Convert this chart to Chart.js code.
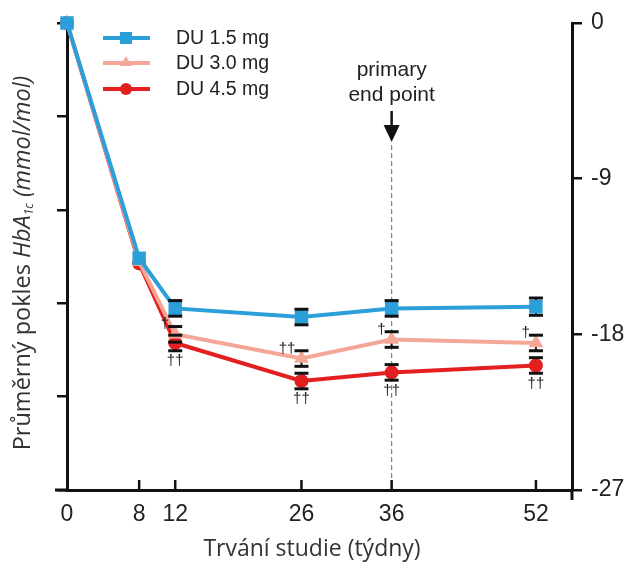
<!DOCTYPE html>
<html><head><meta charset="utf-8">
<script src="https://cdn.jsdelivr.net/npm/chart.js@4.4.0/dist/chart.umd.min.js"></script>
<style>html,body{margin:0;padding:0;background:#fff}#wrap{width:632px;height:565px;position:relative}</style>
</head><body><div id="wrap"><canvas id="c" width="632" height="565"></canvas></div>
<script>
// ---- data ----
const weeks = [0, 8, 12, 26, 36, 52];
const xTickValues = [0, 8, 12, 26, 36, 52];
const rightTickValues = [0, -9, -18, -27];
const seriesNames = ['DU 1.5 mg', 'DU 3.0 mg', 'DU 4.5 mg'];
const du15 = [0, -13.6, -16.5, -17.0, -16.5, -16.4];
const du30 = [0, -13.8, -18.0, -19.4, -18.3, -18.5];
const du45 = [0, -13.9, -18.5, -20.7, -20.2, -19.8];
const err15 = [0, 0, 0.45, 0.45, 0.45, 0.5];
const err30 = [0, 0, 0.45, 0.45, 0.45, 0.45];
const err45 = [0, 0, 0.45, 0.45, 0.45, 0.45];
const marks30 = ['', '', '†', '††', '†', '†'];
const marks45 = ['', '', '††', '††', '††', '††'];
const endPointWeek = 36;
const endPointText = ['primary', 'end point'];
const xTitle = 'Trvání studie (týdny)';

const colors = ['#2b9fd9', '#f4a797', '#e3201f'];
const styles = ['rect', 'triangle', 'circle'];
const radii = [9.5, 8.5, 7];
const errors = [err15, err30, err45];
const seriesData = [du15, du30, du45];
const SANS = '"Liberation Sans", Arial, sans-serif';

const datasets = seriesData.map((arr, i) => ({
  label: seriesNames[i],
  data: arr.map((v, j) => ({x: weeks[j], y: v})),
  borderColor: colors[i],
  backgroundColor: colors[i],
  borderWidth: 4,
  pointStyle: styles[i],
  pointRadius: radii[i],
  pointBorderWidth: 0,
  pointBackgroundColor: colors[i],
  tension: 0,
  clip: false,
  yAxisID: 'y'
}));

const deco = {
  id: 'deco',
  beforeDatasetsDraw(chart) {
    const ctx = chart.ctx, xs = chart.scales.x, ys = chart.scales.y, ca = chart.chartArea;
    ctx.save();
    const ex = xs.getPixelForValue(endPointWeek);
    ctx.strokeStyle = '#4a8fd9'; ctx.lineWidth = 1.2; ctx.setLineDash([5, 3]);
    ctx.beginPath(); ctx.moveTo(ex, 145); ctx.lineTo(ex, ca.bottom); ctx.stroke();
    ctx.setLineDash([]);
    ctx.strokeStyle = '#111'; ctx.lineWidth = 2;
    seriesData.forEach((arr, i) => {
      arr.forEach((v, j) => {
        const e = errors[i][j]; if (!e) return;
        const px = xs.getPixelForValue(weeks[j]);
        ctx.beginPath(); ctx.moveTo(px, ys.getPixelForValue(v + e)); ctx.lineTo(px, ys.getPixelForValue(v - e)); ctx.stroke();
      });
    });
    ctx.restore();
  },
  afterDatasetsDraw(chart) {
    const ctx = chart.ctx, xs = chart.scales.x, ys = chart.scales.y;
    ctx.save();
    ctx.strokeStyle = '#111'; ctx.lineWidth = 3;
    seriesData.forEach((arr, i) => {
      arr.forEach((v, j) => {
        const e = errors[i][j]; if (!e) return;
        const px = xs.getPixelForValue(weeks[j]);
        [v + e, v - e].forEach(val => {
          const py = ys.getPixelForValue(val);
          ctx.beginPath(); ctx.moveTo(px - 7, py); ctx.lineTo(px + 7, py); ctx.stroke();
        });
      });
    });
    ctx.fillStyle = '#222'; ctx.font = '15px ' + SANS;
    ctx.textBaseline = 'middle';
    du30.forEach((v, j) => {
      if (!marks30[j]) return;
      const px = xs.getPixelForValue(weeks[j]), py = ys.getPixelForValue(v);
      ctx.textAlign = 'right'; ctx.fillText(marks30[j], px - 6, py - 10);
    });
    du45.forEach((v, j) => {
      if (!marks45[j]) return;
      const px = xs.getPixelForValue(weeks[j]), py = ys.getPixelForValue(v);
      ctx.textAlign = 'center'; ctx.fillText(marks45[j], px, py + 18);
    });
    ctx.restore();
  },
  afterDraw(chart) {
    const ctx = chart.ctx, xs = chart.scales.x, ca = chart.chartArea;
    ctx.save();
    ctx.strokeStyle = '#111'; ctx.lineWidth = 3;
    ctx.beginPath(); ctx.moveTo(ca.left - 12, ca.bottom); ctx.lineTo(ca.left, ca.bottom); ctx.stroke();
    ctx.beginPath(); ctx.moveTo(ca.right, ca.bottom); ctx.lineTo(ca.right, ca.bottom + 10); ctx.stroke();
    ctx.lineWidth = 2.5;
    xTickValues.forEach(v => {
      if (v === 0) return;
      const px = xs.getPixelForValue(v);
      ctx.beginPath(); ctx.moveTo(px, ca.bottom); ctx.lineTo(px, ca.bottom - 10); ctx.stroke();
    });
    const ex = xs.getPixelForValue(endPointWeek);
    ctx.fillStyle = '#222'; ctx.font = '21px ' + SANS; ctx.textAlign = 'center'; ctx.textBaseline = 'middle';
    ctx.fillText(endPointText[0], ex, 70);
    ctx.fillText(endPointText[1], ex, 95);
    ctx.strokeStyle = '#111'; ctx.lineWidth = 2.5;
    ctx.beginPath(); ctx.moveTo(ex, 111); ctx.lineTo(ex, 128); ctx.stroke();
    ctx.fillStyle = '#111';
    ctx.beginPath(); ctx.moveTo(ex - 8, 125); ctx.lineTo(ex + 8, 125); ctx.lineTo(ex, 142); ctx.closePath(); ctx.fill();
    // legend
    const ly = [38, 63, 89];
    seriesNames.forEach((name, i) => {
      ctx.strokeStyle = colors[i]; ctx.lineWidth = 4;
      ctx.beginPath(); ctx.moveTo(103, ly[i]); ctx.lineTo(150, ly[i]); ctx.stroke();
      ctx.fillStyle = colors[i];
      const cx = 126, cy = ly[i];
      if (styles[i] === 'rect') { ctx.fillRect(cx - 6, cy - 6, 12, 12); }
      else if (styles[i] === 'triangle') { ctx.beginPath(); ctx.moveTo(cx, cy - 7); ctx.lineTo(cx + 6, cy + 3); ctx.lineTo(cx - 6, cy + 3); ctx.closePath(); ctx.fill(); }
      else { ctx.beginPath(); ctx.arc(cx, cy, 6, 0, Math.PI * 2); ctx.fill(); }
      ctx.fillStyle = '#222'; ctx.font = '19.5px ' + SANS; ctx.textAlign = 'left'; ctx.textBaseline = 'middle';
      ctx.fillText(name, 176, cy + 1);
    });
    // x title
    ctx.fillStyle = '#333'; ctx.font = '23px "Open Sans"'; ctx.textAlign = 'center'; ctx.textBaseline = 'middle';
    ctx.fillText(xTitle, 312, 549);
    // y title (rich text)
    const segs = [
      {t: 'Průměrný pokles ', f: '23.5px "Open Sans"', dy: 0},
      {t: 'HbA', f: 'italic 23.5px "Open Sans"', dy: 0},
      {t: '1c', f: 'italic 12px "Open Sans"', dy: 7},
      {t: ' (mmol/mol)', f: 'italic 23.5px "Open Sans"', dy: 0}
    ];
    let total = 0;
    segs.forEach(s => { ctx.font = s.f; s.w = ctx.measureText(s.t).width; total += s.w; });
    ctx.translate(23, 263); ctx.rotate(-Math.PI / 2);
    ctx.textAlign = 'left'; ctx.textBaseline = 'middle'; ctx.fillStyle = '#333';
    let xx = -total / 2;
    segs.forEach(s => { ctx.font = s.f; ctx.fillText(s.t, xx, s.dy); xx += s.w; });
    ctx.restore();
  }
};

new Chart(document.getElementById('c'), {
  type: 'line',
  data: {datasets},
  options: {
    responsive: false,
    animation: false,
    layout: {padding: {top: 23, left: 0, right: 0, bottom: 0}},
    plugins: {legend: {display: false}, tooltip: {enabled: false}},
    scales: {
      x: {
        type: 'linear', position: 'bottom', min: 0, max: 56,
        afterBuildTicks: s => { s.ticks = xTickValues.map(v => ({value: v})); },
        afterFit: s => { s.height = 75; },
        grid: {display: false},
        border: {display: true, width: 3, color: '#111'},
        ticks: {font: {family: SANS, size: 23}, color: '#222', padding: 3, maxRotation: 0, autoSkip: false}
      },
      yL: {
        type: 'linear', position: 'left', min: -2.5, max: 0,
        ticks: {display: false, stepSize: 0.5},
        afterFit: s => { s.width = 67; },
        grid: {drawOnChartArea: false, drawTicks: true, tickLength: 10, lineWidth: 2.5, color: '#111'},
        border: {display: true, width: 3, color: '#111'}
      },
      y: {
        type: 'linear', position: 'right', min: -27, max: 0,
        afterBuildTicks: s => { s.ticks = rightTickValues.map(v => ({value: v})); },
        afterFit: s => { s.width = 60; },
        grid: {drawOnChartArea: false, drawTicks: true, tickLength: 10, lineWidth: 2.5, color: '#111'},
        border: {display: true, width: 3, color: '#111'},
        ticks: {font: {family: SANS, size: 23}, color: '#222', padding: 9}
      }
    }
  },
  plugins: [deco]
});
</script></body></html>
